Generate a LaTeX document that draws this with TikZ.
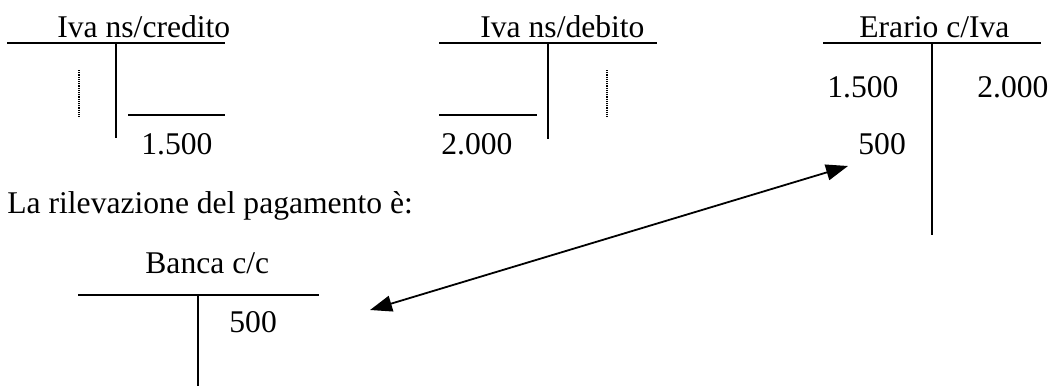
\documentclass[tikz,border=0pt]{standalone}
\usepackage{fontspec}
\setmainfont{Liberation Serif}
\usetikzlibrary{arrows.meta}
\tikzset{
  lbl/.style={anchor=base west, inner sep=0pt, font=\fontsize{15.8}{19}\selectfont},
  tline/.style={line width=0.9pt},
  dots/.style={line width=0.7pt, dash pattern=on 0.6pt off 0.5pt}
}
\begin{document}
\begin{tikzpicture}[x=0.5pt, y=-0.5pt]
  \useasboundingbox (0,0) rectangle (1054,386);
  % Iva ns/credito
  \node[lbl] (credT) at (57,37) {Iva ns/credito};
  \draw[tline] (7,43) -- (225,43);
  \draw[tline] (116,43) -- (116,138);
  \draw[tline] (128,115) -- (225,115);
  \draw[dots] (79,70) -- (79,117);
  \node[lbl] (credV) at (141,154) {1.500};
  % Iva ns/debito
  \node[lbl] (debT) at (480,37) {Iva ns/debito};
  \draw[tline] (439,43) -- (657,43);
  \draw[tline] (548,43) -- (548,139);
  \draw[tline] (439,115) -- (537,115);
  \draw[dots] (607,70) -- (607,117);
  \node[lbl] (debV) at (441,154) {2.000};
  % Erario c/Iva
  \node[lbl] (erT) at (859,37) {Erario c/Iva};
  \draw[tline] (823,43) -- (1041,43);
  \draw[tline] (932,43) -- (932,235);
  \node[lbl] (erD) at (827,97) {1.500};
  \node[lbl] (erA) at (977,97) {2.000};
  \node[lbl] (erS) at (858,154) {500};
  \node[lbl] (txt) at (7,213) {La rilevazione del pagamento è:};
  % Banca c/c
  \node[lbl] (bnT) at (145,273) {Banca c/c};
  \draw[tline] (78,295) -- (319,295);
  \draw[tline] (198,295) -- (198,386);
  \node[lbl] (bnA) at (229,332) {500};
  \coordinate (bnP) at (370,310);
  \coordinate (erP) at (848,166);
  \draw[line width=0.9pt, {Triangle[length=11pt,width=8pt]}-{Triangle[length=11pt,width=8pt]}] (bnP) -- (erP);
\end{tikzpicture}
\end{document}
